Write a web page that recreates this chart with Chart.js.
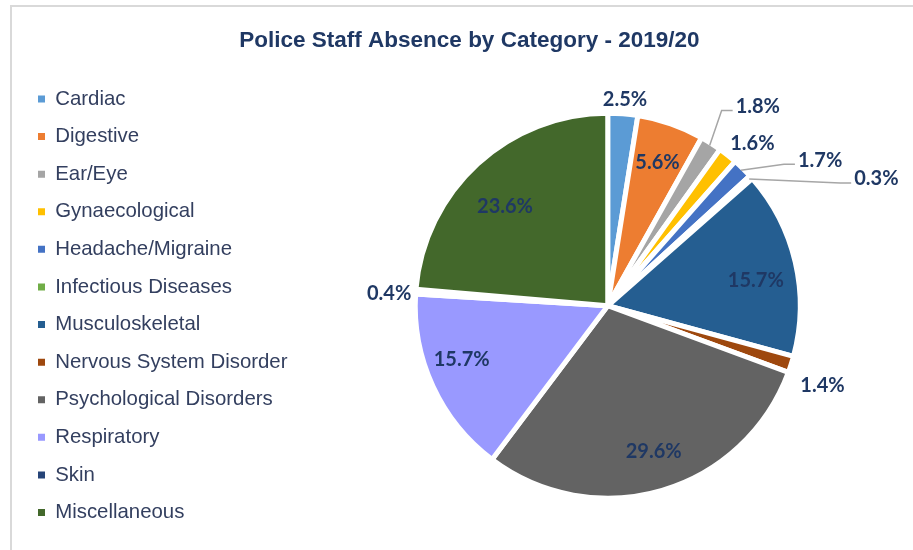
<!DOCTYPE html>
<html>
<head>
<meta charset="utf-8">
<title>Police Staff Absence by Category - 2019/20</title>
<script src="https://cdn.jsdelivr.net/npm/chart.js@4.4.1/dist/chart.umd.min.js"></script>
<style>
    html, body { margin: 0; padding: 0; background: #fff; overflow: hidden; }
    #frame {
        position: absolute; left: 10px; top: 5px; right: 0; bottom: 0;
        border-top: 2px solid #d9d9d9; border-left: 2px solid #d9d9d9;
    }
    #wrap { position: absolute; left: 0; top: 0; width: 918px; height: 550px; }
</style>
</head>
<body>
<div id="frame"></div>
<div id="wrap"><canvas id="absenceChart"></canvas></div>
<script>
// Absence categories, in legend / slice order
const categories = [
    'Cardiac', 'Digestive', 'Ear/Eye', 'Gynaecological', 'Headache/Migraine',
    'Infectious Diseases', 'Musculoskeletal', 'Nervous System Disorder',
    'Psychological Disorders', 'Respiratory', 'Skin', 'Miscellaneous'
];

// Share of absence per category (%)
const shares = [2.5, 5.6, 1.8, 1.6, 1.7, 0.3, 15.7, 1.4, 29.6, 15.7, 0.4, 23.6];

// Slice colours
const sliceColors = [
    '#5b9bd5', '#ed7d31', '#a5a5a5', '#ffc000', '#4472c4', '#70ad47',
    '#255e91', '#9e480e', '#636363', '#9999ff', '#264478', '#43682b'
];

// Where each value label goes: inside the slice, just outside it, or out on a leader line
const labelPlacement = [
    { at: 'out' },
    { at: 'in' },
    { at: 'leader', dx: 26, dy: -39 },
    { at: 'out', nx: 8 },
    { at: 'leader', dx: 57, dy: -10 },
    { at: 'leader', dx: 105, dy: 0 },
    { at: 'in', ny: 9 },
    { at: 'out', nx: 6, ny: 17 },
    { at: 'in', nx: 3 },
    { at: 'in', nx: -8, ny: -10 },
    { at: 'out', ny: 3 },
    { at: 'in', ny: 13 }
];

const SLICE_BORDER = 5;

// Percent labels drawn on top of the slices
const sliceLabels = {
    id: 'sliceLabels',
    afterDatasetsDraw(chart) {
        const ctx = chart.ctx;
        const meta = chart.getDatasetMeta(0);
        ctx.save();
        ctx.font = "bold 20px Lato, 'Open Sans', sans-serif";
        ctx.fillStyle = '#1f3864';
        ctx.textBaseline = 'middle';

        meta.data.forEach((arc, i) => {
            const { x, y, startAngle, endAngle, outerRadius } =
                arc.getProps(['x', 'y', 'startAngle', 'endAngle', 'outerRadius'], true);
            const r = outerRadius - SLICE_BORDER / 2;
            const mid = (startAngle + endAngle) / 2;
            const cos = Math.cos(mid);
            const sin = Math.sin(mid);
            const text = shares[i].toFixed(1) + '%';
            const p = labelPlacement[i];
            const w = ctx.measureText(text).width;
            const h = 20;

            if (p.at === 'in') {
                ctx.textAlign = 'center';
                ctx.fillText(text, x + cos * r * 0.8 + (p.nx || 0), y + sin * r * 0.8 + (p.ny || 0));
            } else if (p.at === 'out') {
                const ax = x + cos * (r + 7);
                const ay = y + sin * (r + 7);
                ctx.textAlign = 'center';
                ctx.fillText(text, ax + cos * w / 2 + (p.nx || 0), ay + sin * h / 2 + (p.ny || 0));
            } else {
                // leader line from the slice edge to the label
                const ex = x + cos * r;
                const ey = y + sin * r;
                const tx = ex + p.dx;
                const ty = ey + p.dy;
                ctx.strokeStyle = '#a6a6a6';
                ctx.lineWidth = 1.5;
                ctx.beginPath();
                ctx.moveTo(ex, ey);
                ctx.lineTo(tx - 14, ty + 4);
                ctx.lineTo(tx - 3, ty + 4);
                ctx.stroke();
                ctx.textAlign = 'left';
                ctx.fillText(text, tx, ty);
            }
        });
        ctx.restore();
    }
};

const baseFont = "'Liberation Sans', Arial, sans-serif";

new Chart(document.getElementById('absenceChart'), {
    type: 'pie',
    data: {
        labels: categories,
        datasets: [{
            data: shares,
            backgroundColor: sliceColors,
            borderColor: '#ffffff',
            borderWidth: SLICE_BORDER,
            radius: 192.5,
            hoverOffset: 0
        }]
    },
    options: {
        responsive: true,
        maintainAspectRatio: false,
        animation: false,
        layout: {
            padding: { left: 20.8, right: 0, top: 0, bottom: 5 }
        },
        plugins: {
            title: {
                display: true,
                text: 'Police Staff Absence by Category - 2019/20',
                color: '#1f3864',
                font: { family: baseFont, size: 22.5, weight: 'bold' },
                padding: { top: 27.5, bottom: 12 }
            },
            legend: {
                position: 'left',
                align: 'center',
                fullSize: false,
                labels: {
                    boxWidth: 7,
                    boxHeight: 7,
                    padding: 17.2,
                    color: '#333f5f',
                    font: { family: baseFont, size: 20.4 },
                    // no white outline round the legend squares
                    generateLabels: chart =>
                        Chart.overrides.doughnut.plugins.legend.labels.generateLabels(chart)
                            .map(item => Object.assign(item, { lineWidth: 0, strokeStyle: 'rgba(0,0,0,0)' }))
                }
            },
            tooltip: {
                callbacks: {
                    label: context => `${context.label}: ${context.parsed.toFixed(1)}%`
                }
            }
        }
    },
    plugins: [sliceLabels]
});
</script>
</body>
</html>
